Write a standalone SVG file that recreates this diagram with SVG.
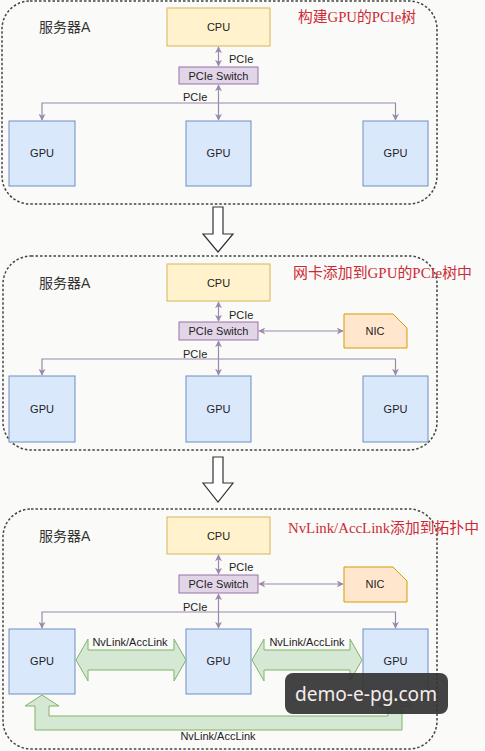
<svg xmlns="http://www.w3.org/2000/svg" width="485" height="751" viewBox="0 0 485 751">
<defs>
<style>
.panel{fill:none;stroke:#444;stroke-width:1.5;stroke-dasharray:2.5 2}
.cpu{fill:#fff2cc;stroke:#d6b656;stroke-width:1}
.sw{fill:#e1d5e7;stroke:#9673a6;stroke-width:1}
.gpu{fill:#dae8fc;stroke:#6c8ebf;stroke-width:1}
.nic{fill:#ffe6cc;stroke:#d79b00;stroke-width:1}
.nv{fill:#d5e8d4;stroke:#82b366;stroke-width:1}
.hollow{fill:#fff;stroke:#333;stroke-width:1.2}
.conn{fill:none;stroke:#9d88ad;stroke-width:1.2;marker-start:url(#ah);marker-end:url(#ah)}
.t{font-family:"Liberation Sans",Arial,sans-serif;font-size:11px;fill:#222}
.c{text-anchor:middle}
.srv{font-family:"Liberation Sans","Noto Sans CJK SC",sans-serif;font-size:14px;fill:#333}
.title{font-family:"Liberation Serif","Noto Sans CJK SC",serif;font-size:15px;fill:#cc2a36}
</style>
<marker id="ah" viewBox="0 0 10 10" refX="9" refY="5" markerWidth="7" markerHeight="7" markerUnits="userSpaceOnUse" orient="auto-start-reverse">
<path d="M0,0 L10,5 L0,10 L3,5 Z" fill="#9d88ad"/>
</marker>
</defs>
<rect width="485" height="751" fill="#fafaf8"/>

<!-- Panel 1 -->
<g id="panel1">
<rect class="panel" x="2" y="1" width="435" height="203" rx="28"/>
<text class="srv" x="39" y="32">服务器A</text>
<text class="title" x="298" y="22" textLength="118" lengthAdjust="spacingAndGlyphs">构建GPU的PCIe树</text>
</g>
<g id="p1-cpu"><rect class="cpu" x="167" y="8" width="103" height="38"/><text class="t c" x="218.5" y="31">CPU</text></g>
<g id="p1-switch"><rect class="sw" x="179" y="67" width="79" height="17"/><text class="t c" x="218.5" y="79.5">PCIe Switch</text></g>
<g id="p1-gpu1"><rect class="gpu" x="9" y="121" width="66" height="65"/><text class="t c" x="42" y="157">GPU</text></g>
<g id="p1-gpu2"><rect class="gpu" x="186" y="121" width="65" height="65"/><text class="t c" x="218.5" y="157">GPU</text></g>
<g id="p1-gpu3"><rect class="gpu" x="363" y="121" width="65" height="65"/><text class="t c" x="395.5" y="157">GPU</text></g>
<g id="p1-connectors">
<line class="conn" x1="218.5" y1="47" x2="218.5" y2="66"/>
<line class="conn" x1="218.5" y1="85" x2="218.5" y2="120"/>
<path class="conn" d="M42,120 V103 H395.5 V120"/>
<text class="t" x="229" y="63">PCIe</text>
<text class="t" x="183" y="101">PCIe</text>
</g>

<g id="arrow1"><polygon class="hollow" points="213,207 223,207 223,234 233,234 218,252 203,234 213,234"/></g>

<!-- Panel 2 -->
<g id="panel2">
<rect class="panel" x="3" y="256" width="434" height="194" rx="28"/>
<text class="srv" x="39" y="288">服务器A</text>
<text class="title" x="293" y="278" textLength="179" lengthAdjust="spacingAndGlyphs">网卡添加到GPU的PCIe树中</text>
</g>
<g id="p2-cpu"><rect class="cpu" x="167" y="264" width="103" height="37"/><text class="t c" x="218.5" y="286.5">CPU</text></g>
<g id="p2-switch"><rect class="sw" x="179" y="322" width="79" height="18"/><text class="t c" x="218.5" y="335">PCIe Switch</text></g>
<g id="p2-nic"><polygon class="nic" points="344,314 393,314 407,328 407,348 344,348"/><text class="t c" x="375" y="335">NIC</text></g>
<g id="p2-gpu1"><rect class="gpu" x="9" y="376" width="66" height="66"/><text class="t c" x="42" y="413">GPU</text></g>
<g id="p2-gpu2"><rect class="gpu" x="186" y="376" width="65" height="66"/><text class="t c" x="218.5" y="413">GPU</text></g>
<g id="p2-gpu3"><rect class="gpu" x="363" y="376" width="65" height="66"/><text class="t c" x="395.5" y="413">GPU</text></g>
<g id="p2-connectors">
<line class="conn" x1="218.5" y1="302" x2="218.5" y2="321"/>
<line class="conn" x1="218.5" y1="341" x2="218.5" y2="375"/>
<line class="conn" x1="259" y1="331" x2="343" y2="331"/>
<path class="conn" d="M42,375 V359 H395.5 V375"/>
<text class="t" x="229" y="319">PCIe</text>
<text class="t" x="183" y="357.5">PCIe</text>
</g>

<g id="arrow2"><polygon class="hollow" points="213,457 223,457 223,483 233,483 218,502 203,483 213,483"/></g>

<!-- Panel 3 -->
<g id="panel3">
<rect class="panel" x="3" y="509" width="434" height="240" rx="28"/>
<text class="srv" x="39" y="541">服务器A</text>
<text class="title" x="288" y="533" textLength="191" lengthAdjust="spacingAndGlyphs">NvLink/AccLink添加到拓扑中</text>
</g>
<g id="p3-cpu"><rect class="cpu" x="167" y="517" width="103" height="37"/><text class="t c" x="218.5" y="539.5">CPU</text></g>
<g id="p3-switch"><rect class="sw" x="179" y="575" width="79" height="18"/><text class="t c" x="218.5" y="588">PCIe Switch</text></g>
<g id="p3-nic"><polygon class="nic" points="344,567 393,567 407,581 407,602 344,602"/><text class="t c" x="375" y="588">NIC</text></g>
<g id="p3-gpu1"><rect class="gpu" x="9" y="629" width="66" height="65"/><text class="t c" x="42" y="665">GPU</text></g>
<g id="p3-gpu2"><rect class="gpu" x="186" y="629" width="65" height="65"/><text class="t c" x="218.5" y="665">GPU</text></g>
<g id="p3-gpu3"><rect class="gpu" x="363" y="629" width="65" height="65"/><text class="t c" x="395.5" y="665">GPU</text></g>
<g id="p3-connectors">
<line class="conn" x1="218.5" y1="555" x2="218.5" y2="574"/>
<line class="conn" x1="218.5" y1="594" x2="218.5" y2="628"/>
<line class="conn" x1="259" y1="584" x2="343" y2="584"/>
<path class="conn" d="M42,628 V612 H395.5 V628"/>
<text class="t" x="229" y="571">PCIe</text>
<text class="t" x="183" y="611">PCIe</text>
<polygon class="nv" points="76,660 88,639 88,650 174,650 174,639 186,660 174,681 174,670 88,670 88,681"/>
<polygon class="nv" points="252,660 264,639 264,650 350,650 350,639 362,660 350,681 350,670 264,670 264,681"/>
<polygon class="nv" points="42,695 59,706 49,706 49,716 388,716 388,706 378,706 395,695 412,706 402,706 402,730 35,730 35,706 25,706"/>
<text class="t c" x="130" y="646">NvLink/AccLink</text>
<text class="t c" x="307" y="646">NvLink/AccLink</text>
<text class="t c" x="218" y="740">NvLink/AccLink</text>
</g>

<g id="watermark">
<rect x="285" y="673" width="163" height="41" rx="8" fill="#333" fill-opacity="0.92"/>
<text x="295" y="701" font-family="'Noto Sans',sans-serif" font-size="20" fill="#f6ecec" textLength="142" lengthAdjust="spacingAndGlyphs">demo-e-pg.com</text>
</g>
</svg>
